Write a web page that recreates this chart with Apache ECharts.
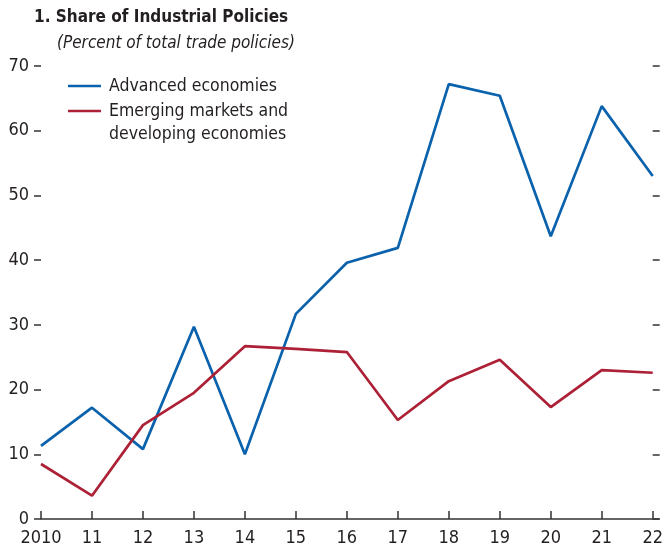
<!DOCTYPE html>
<html>
<head>
<meta charset="utf-8">
<script src="https://cdn.jsdelivr.net/npm/echarts@6/dist/echarts.min.js"></script>
<style>
  html, body { margin: 0; padding: 0; background: #fff; }
  #main { width: 666px; height: 552px; }
</style>
</head>
<body>
<div id="main"></div>
<script>
// data
var years = ['2010', '11', '12', '13', '14', '15', '16', '17', '18', '19', '20', '21', '22'];
var advanced = [11.3, 17.2, 10.8, 29.7, 10.0, 31.7, 39.6, 41.9, 67.2, 65.4, 43.7, 63.8, 53.0];
var emerging = [8.5, 3.6, 14.5, 19.5, 26.7, 26.3, 25.8, 15.3, 21.3, 24.6, 17.3, 23.0, 22.6];

var FONT = '"Liberation Sans Narrow", "DejaVu Sans Condensed", "Liberation Sans", sans-serif';
var TXT = '#231f20';
var BLUE = '#0b62ac';
var RED = '#ad2137';

// legend labels: first text line lines up with the legend swatch
function legendText(name) {
    var lines = name.split('\n').map(function (l) { return '{t|' + l + '}'; });
    if (lines.length > 1) lines.unshift('{e| }');
    return lines.join('\n');
}
var legendRich = {
    t: { fontFamily: FONT, fontSize: 17.5, color: TXT, lineHeight: 23, padding: [0, 0, 0, 3] },
    e: { fontFamily: FONT, fontSize: 17.5, lineHeight: 23 }
};

var chart = echarts.init(document.getElementById('main'));
var option = {
    animation: false,
    textStyle: { fontFamily: FONT, color: TXT },
    title: [{
        text: '1. Share of Industrial Policies',
        left: 34, top: 9, padding: 0,
        textStyle: { fontFamily: FONT, fontWeight: 'bold', fontSize: 17, color: TXT }
    }, {
        text: '(Percent of total trade policies)',
        left: 57, top: 35, padding: 0,
        textStyle: { fontFamily: FONT, fontStyle: 'italic', fontWeight: 'normal', fontSize: 17, color: TXT }
    }],
    legend: [{
        data: ['Advanced economies'],
        left: 68, top: 77, padding: 0,
        icon: 'rect', itemWidth: 33, itemHeight: 2.5,
        formatter: legendText,
        textStyle: { rich: legendRich }
    }, {
        data: ['Emerging markets and\ndeveloping economies'],
        left: 68, top: 79, padding: 0,
        icon: 'rect', itemWidth: 33, itemHeight: 2.5,
        formatter: legendText,
        textStyle: { rich: legendRich }
    }],
    grid: { left: 41, right: 11, top: 66, bottom: 33, containLabel: false },
    xAxis: {
        type: 'category',
        data: years,
        boundaryGap: false,
        axisLine: { lineStyle: { color: '#333', width: 1.5 } },
        axisTick: { inside: true, length: 8, interval: 0, lineStyle: { color: '#333', width: 1.5 } },
        axisLabel: { fontFamily: FONT, fontSize: 18, color: TXT, margin: 10, interval: 0 }
    },
    yAxis: [{
        type: 'value',
        min: 0, max: 70, interval: 10,
        splitLine: { show: false },
        axisLine: { show: false },
        axisTick: { show: true, length: 7, lineStyle: { color: '#333', width: 1.5 } },
        axisLabel: { fontFamily: FONT, fontSize: 18, color: TXT, margin: 12 }
    }, {
        type: 'value',
        position: 'right',
        min: 0, max: 70, interval: 10,
        splitLine: { show: false },
        axisLine: { show: false },
        axisTick: { show: true, length: 7, lineStyle: { color: '#333', width: 1.5 } },
        axisLabel: { show: false }
    }],
    series: [{
        name: 'Advanced economies',
        type: 'line',
        data: advanced,
        symbol: 'none',
        color: BLUE,
        lineStyle: { color: BLUE, width: 2.7 }
    }, {
        name: 'Emerging markets and\ndeveloping economies',
        type: 'line',
        data: emerging,
        symbol: 'none',
        color: RED,
        lineStyle: { color: RED, width: 2.7 }
    }]
};
chart.setOption(option);

// the x axis line runs a little past the last year
var p0 = chart.convertToPixel({ xAxisIndex: 0, yAxisIndex: 0 }, [years.length - 1, 0]);
chart.setOption({
    graphic: [{
        type: 'line',
        shape: { x1: p0[0], y1: p0[1], x2: p0[0] + 7, y2: p0[1] },
        style: { stroke: '#333', lineWidth: 1.5 }
    }]
});
</script>
</body>
</html>
